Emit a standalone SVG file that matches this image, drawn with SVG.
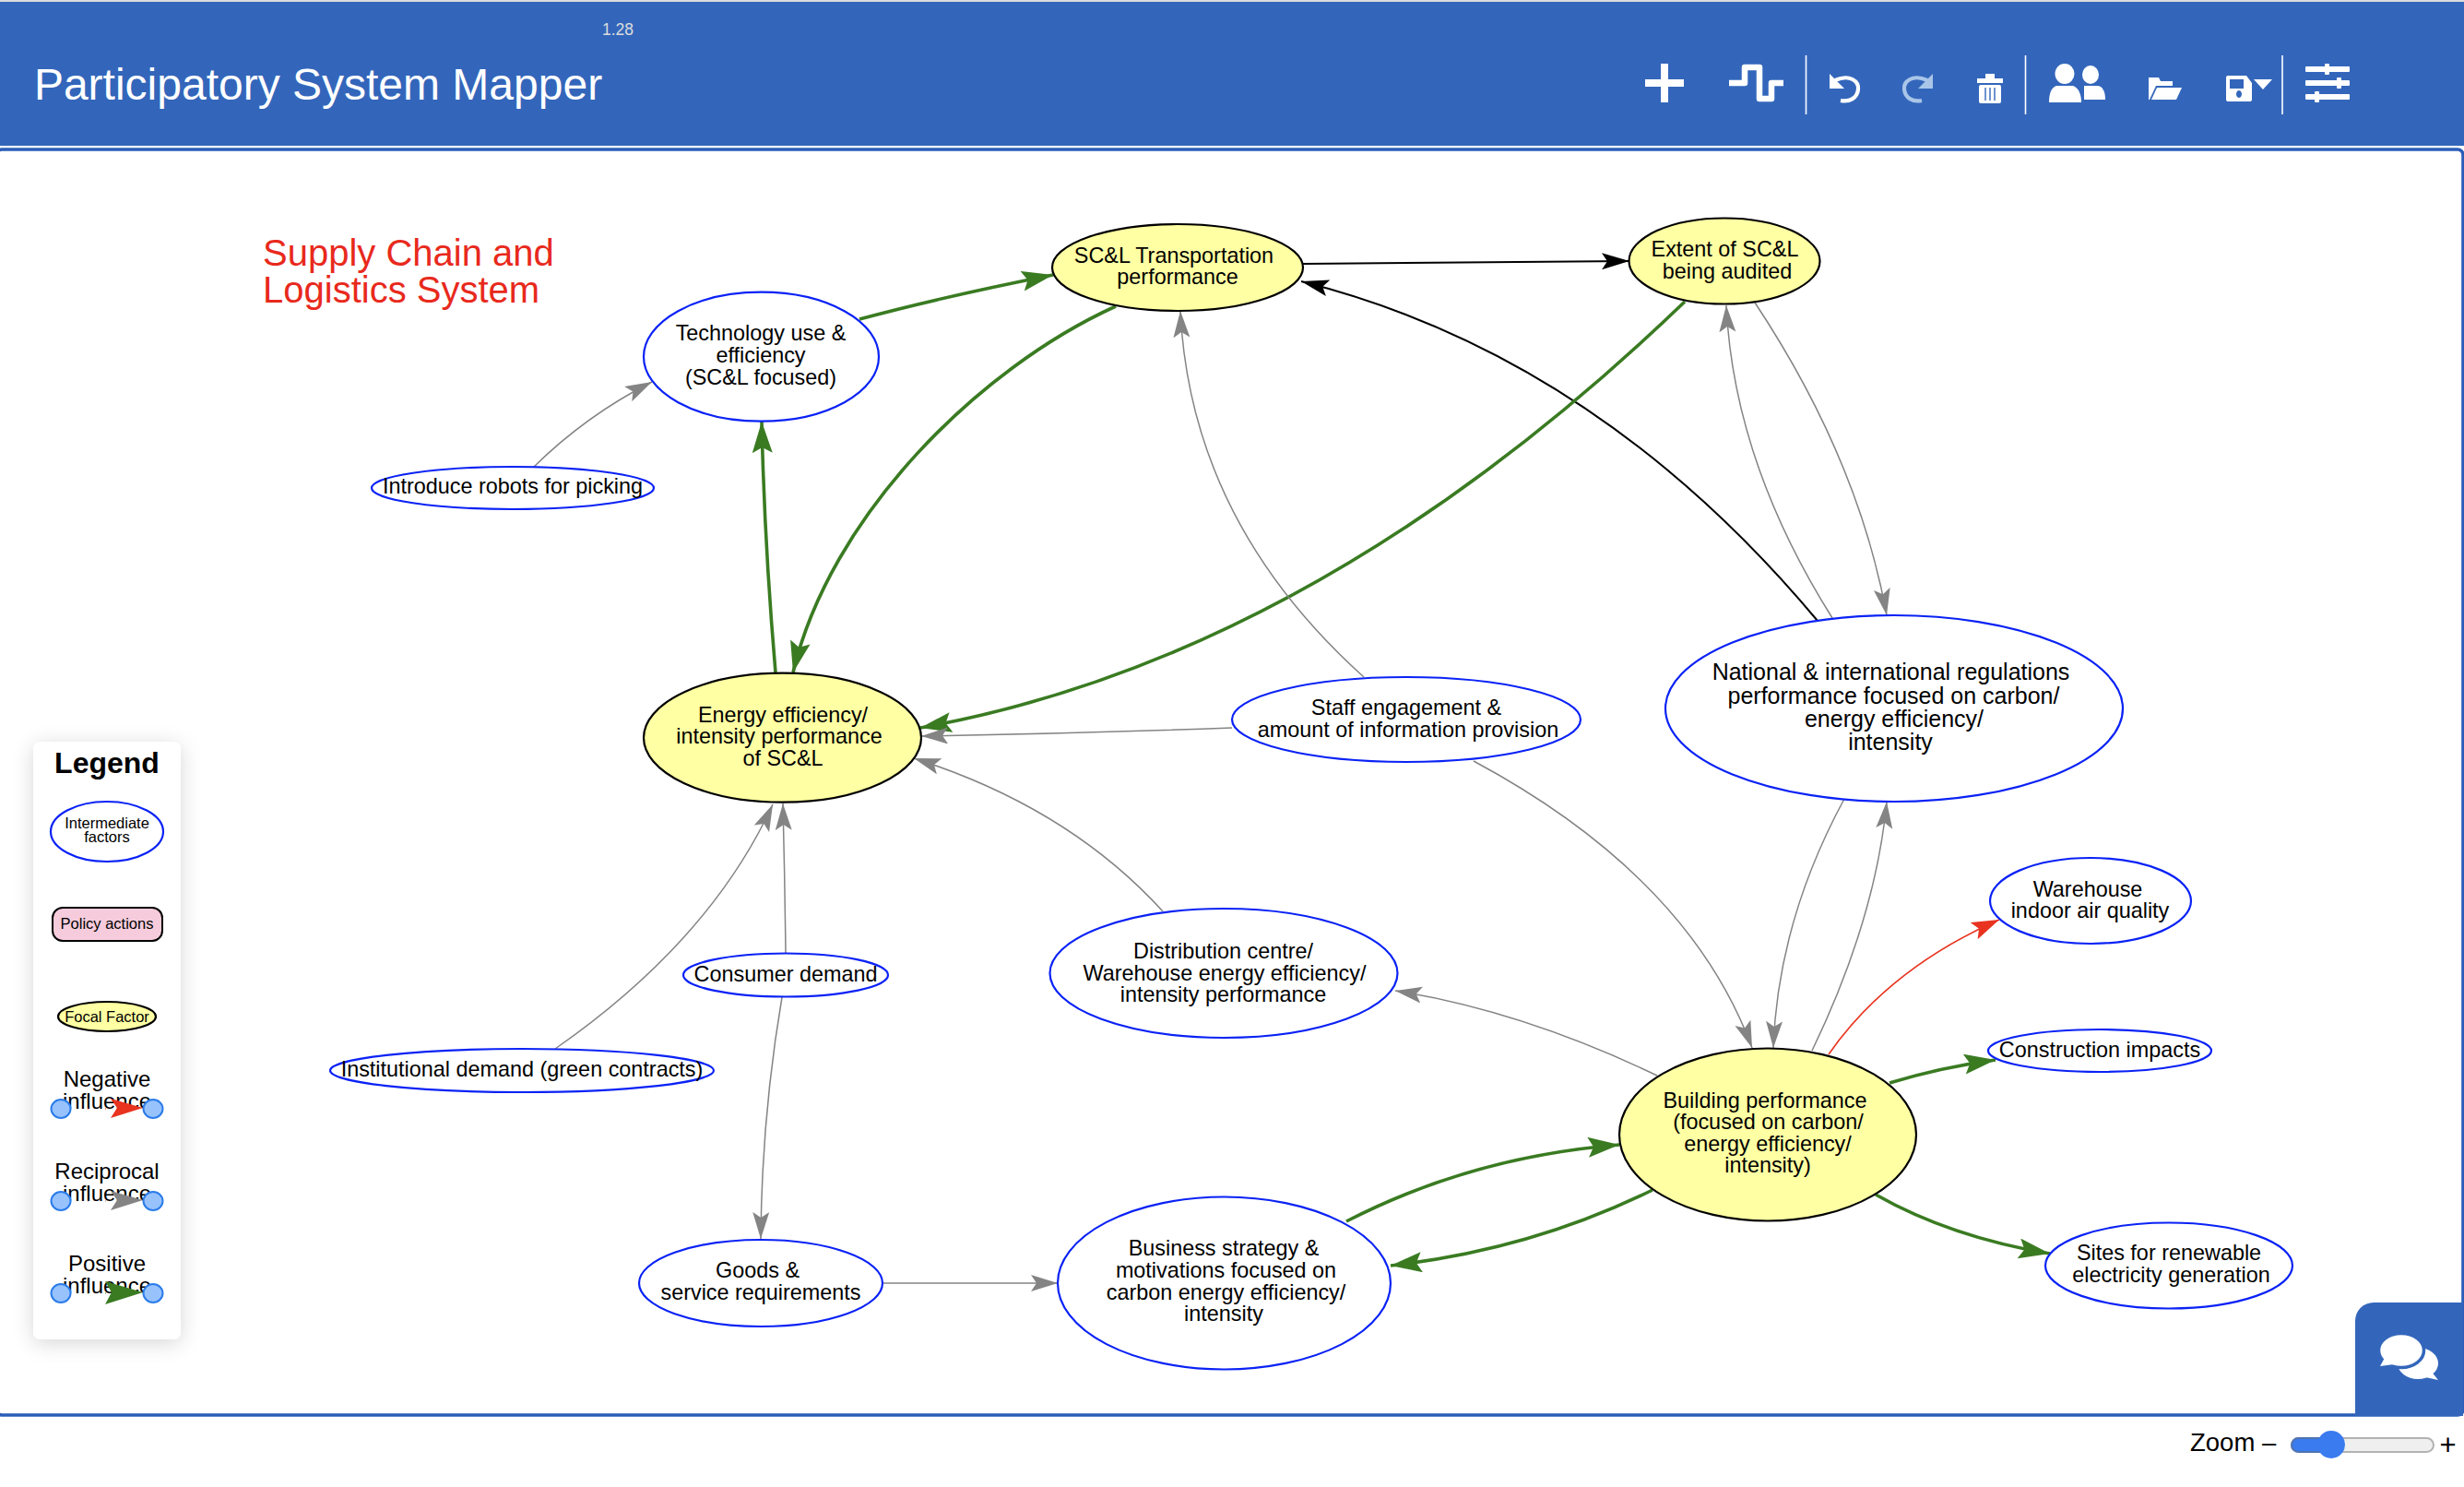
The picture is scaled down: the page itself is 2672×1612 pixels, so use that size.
<svg xmlns="http://www.w3.org/2000/svg" width="2672" height="1612" viewBox="0 0 2672 1612">
<style>
text{font-family:"Liberation Sans",Arial,Helvetica,sans-serif;fill:#000;text-anchor:middle}
.n{font-size:23.4px}
.lg{font-size:25px}
.leg{font-size:16.5px}
.int{fill:#fff;stroke:#0a22f5;stroke-width:2.2}
.foc{fill:#ffffa3;stroke:#000;stroke-width:2.2}
.e{fill:none}
.pos{stroke:#3a7b22;stroke-width:3.6;marker-end:url(#mG)}
.rec{stroke:#848484;stroke-width:1.5;marker-end:url(#mK)}
.blk{stroke:#000;stroke-width:2;marker-end:url(#mB)}
.neg{stroke:#e8331f;stroke-width:1.6;marker-end:url(#mR)}
.ic{fill:#fff}
.dot{fill:#97c2fc;stroke:#2b7ce9;stroke-width:2}
.bar{fill:#3366bb}
.sep{stroke:#fff;stroke-width:1.6}
</style>
<defs>
<marker id="mG" markerUnits="userSpaceOnUse" markerWidth="36" markerHeight="24" refX="34" refY="11" orient="auto"><path d="M0,0L34,11L0,22L6,11Z" fill="#3a7b22"/></marker>
<marker id="mK" markerUnits="userSpaceOnUse" markerWidth="32" markerHeight="20" refX="29" refY="9" orient="auto"><path d="M0,0L29,9L0,18L6,9Z" fill="#848484"/></marker>
<marker id="mB" markerUnits="userSpaceOnUse" markerWidth="32" markerHeight="20" refX="30" refY="9" orient="auto"><path d="M0,0L30,9L0,18L6,9Z" fill="#000"/></marker>
<marker id="mR" markerUnits="userSpaceOnUse" markerWidth="32" markerHeight="22" refX="30" refY="10" orient="auto"><path d="M0,0L30,10L0,20L6,10Z" fill="#e8331f"/></marker>
<filter id="sh" x="-40%" y="-10%" width="180%" height="120%"><feDropShadow dx="0" dy="4" stdDeviation="11" flood-color="#000" flood-opacity="0.16"/></filter>
</defs>
<rect width="2672" height="1612" fill="#fff"/>
<g id="header">
<rect width="2672" height="2" fill="#dcdcdc"/>
<rect y="2" width="2672" height="156" class="bar"/>
<text x="670" y="38" style="font-size:17.5px;fill:#dcdcdc">1.28</text>
<text x="345" y="108" style="font-size:48px;fill:#fff">Participatory System Mapper</text>
<path class="ic" d="M1801,69h8v17h17v8h-17v17h-8v-17h-17v-8h17z"/>
<path fill="none" stroke="#fff" stroke-width="6.5" stroke-linejoin="round" d="M1875,90H1892V73H1908V107H1921V90H1934"/>
<line class="sep" x1="1958.5" y1="60" x2="1958.5" y2="124"/>
<g id="undo"><path fill="none" stroke="#fff" stroke-width="4.2" d="M1990,87C2006,80 2016,88 2015,97C2014,106 2006,111 1996,109"/><path class="ic" d="M1984,80V96H2000Z"/></g>
<g id="redo" transform="matrix(-1 0 0 1 4080 0)"><path fill="none" stroke="#a9c5e8" stroke-width="4.2" d="M1990,87C2006,80 2016,88 2015,97C2014,106 2006,111 1996,109"/><path fill="#a9c5e8" d="M1984,80V96H2000Z"/></g>
<g id="trash"><rect class="ic" x="2144" y="85" width="28" height="5"/><rect class="ic" x="2153" y="80" width="10" height="5"/><rect class="ic" x="2146" y="92" width="24" height="20" rx="2"/><path stroke="#3366bb" stroke-width="1.4" d="M2153,95v14M2158,95v14M2163,95v14"/></g>
<line class="sep" x1="2196.5" y1="60" x2="2196.5" y2="124"/>
<g id="people"><ellipse class="ic" cx="2267" cy="81" rx="9" ry="10"/><path class="ic" d="M2260,93H2274C2280,93 2283,99 2283,108H2260Z"/><ellipse class="ic" cx="2239" cy="80" rx="10.5" ry="11"/><path class="ic" d="M2230,93H2248C2254,95 2257,102 2257,111H2222C2222,102 2224,95 2230,93Z"/></g>
<g id="folder"><path class="ic" d="M2330,84H2341L2343,88H2356V93H2338L2331,108H2330Z"/><path class="ic" d="M2339,95H2366L2360,108H2333Z"/></g>
<g id="save"><path class="ic" fill-rule="evenodd" d="M2414,84a2,2 0 0 1 2,-2H2436L2442,90V108a2,2 0 0 1 -2,2H2416a2,2 0 0 1 -2,-2ZM2418,86V96H2433V86ZM2428,98a3,4 0 1 0 .01,0Z"/><path class="ic" d="M2444,86H2464L2454,97Z"/></g>
<line class="sep" x1="2475" y1="60" x2="2475" y2="124"/>
<g id="sliders"><rect class="ic" x="2500" y="72" width="48" height="6" rx="1"/><rect class="ic" x="2500" y="87" width="48" height="6" rx="1"/><rect class="ic" x="2500" y="102" width="48" height="6" rx="1"/><rect class="ic" x="2521" y="69" width="5" height="12" rx="1"/><rect class="ic" x="2534" y="84" width="5" height="12" rx="1"/><rect class="ic" x="2510" y="99" width="5" height="12" rx="1"/></g>
</g>
<rect id="canvas" x="-4" y="162" width="2675" height="1372" rx="6" fill="#fff" stroke="#2a5db8" stroke-width="3.6"/>
<text x="285" y="288" style="font-size:40px;fill:#e8291c;text-anchor:start">Supply Chain and</text>
<text x="285" y="328" style="font-size:40px;fill:#e8291c;text-anchor:start">Logistics System</text>
<g id="connectors">
<path class="e rec" d="M579,506Q636,450 707,414"/>
<path class="e pos" d="M932,346Q1021,322 1142,298"/>
<path class="e pos" d="M841,729Q829,590 826,457"/>
<path class="e pos" d="M1210,332C1060,400 900,560 860,729"/>
<path class="e blk" d="M1413,286Q1590,284 1767,283"/>
<path class="e blk" d="M1971,673Q1730,385 1411,305"/>
<path class="e pos" d="M1827,327Q1427,712 998,789"/>
<path class="e rec" d="M1903,328Q2015,497 2046,667"/>
<path class="e rec" d="M1987,670Q1880,500 1872,331"/>
<path class="e rec" d="M1479,734Q1291,565 1280,337"/>
<path class="e rec" d="M1336,789Q1170,795 999,798"/>
<path class="e rec" d="M1261,988Q1158,875 991,822"/>
<path class="e rec" d="M602,1137Q770,1020 838,872"/>
<path class="e rec" d="M852,1033Q851,950 849,871"/>
<path class="e rec" d="M848,1081Q826,1210 825,1343"/>
<path class="e rec" d="M958,1391H1147"/>
<path class="e pos" d="M1460,1324Q1596,1254 1756,1241"/>
<path class="e pos" d="M1792,1290Q1660,1355 1508,1372"/>
<path class="e rec" d="M1598,825Q1831,950 1900,1136"/>
<path class="e rec" d="M2000,866Q1928,999 1923,1136"/>
<path class="e rec" d="M1965,1139Q2034,996 2046,869"/>
<path class="e rec" d="M1797,1166Q1651,1096 1513,1074"/>
<path class="e neg" d="M1983,1143Q2048,1050 2168,997"/>
<path class="e pos" d="M2049,1174Q2105,1157 2164,1149"/>
<path class="e pos" d="M2034,1295Q2115,1341 2223,1359"/>
</g>
<g id="node-tech"><ellipse class="int" cx="825.5" cy="386.7" rx="127.5" ry="70"/><text class="n" x="825" y="369">Technology use &amp;</text><text class="n" x="825" y="392.5">efficiency</text><text class="n" x="825" y="416.5">(SC&amp;L focused)</text></g>
<g id="node-transport"><ellipse class="foc" cx="1277" cy="290" rx="136" ry="47"/><text class="n" x="1273" y="285">SC&amp;L Transportation</text><text class="n" x="1277" y="308">performance</text></g>
<g id="node-audited"><ellipse class="foc" cx="1870" cy="283" rx="103.5" ry="46.5"/><text class="n" x="1870.5" y="278">Extent of SC&amp;L</text><text class="n" x="1873" y="301.5">being audited</text></g>
<g id="node-regulations"><ellipse class="int" cx="2054" cy="768" rx="248" ry="101"/><text class="lg" x="2050.5" y="737">National &amp; international regulations</text><text class="lg" x="2053.5" y="762.5">performance focused on carbon/</text><text class="lg" x="2054" y="788">energy efficiency/</text><text class="lg" x="2050" y="813">intensity</text></g>
<g id="node-energy"><ellipse class="foc" cx="848.5" cy="799.7" rx="150.5" ry="70"/><text class="n" x="849" y="782.5">Energy efficiency/</text><text class="n" x="845" y="806">intensity performance</text><text class="n" x="849" y="829.5">of SC&amp;L</text></g>
<g id="node-staff"><ellipse class="int" cx="1525" cy="780" rx="189" ry="46"/><text class="n" x="1525" y="775">Staff engagement &amp;</text><text class="n" x="1527" y="799">amount of information provision</text></g>
<g id="node-robots"><ellipse class="int" cx="556" cy="529" rx="153" ry="23"/><text class="n" x="556" y="535">Introduce robots for picking</text></g>
<g id="node-consumer"><ellipse class="int" cx="852" cy="1057" rx="111" ry="23.5"/><text class="n" x="852" y="1063.8">Consumer demand</text></g>
<g id="node-institutional"><ellipse class="int" cx="566" cy="1160.5" rx="208" ry="23.5"/><text class="n" x="566" y="1166.7">Institutional demand (green contracts)</text></g>
<g id="node-distribution"><ellipse class="int" cx="1327" cy="1055" rx="188.5" ry="70"/><text class="n" x="1326.5" y="1039">Distribution centre/</text><text class="n" x="1328" y="1062.5">Warehouse energy efficiency/</text><text class="n" x="1326.5" y="1085.5">intensity performance</text></g>
<g id="node-building"><ellipse class="foc" cx="1917" cy="1230" rx="161" ry="93.5"/><text class="n" x="1914" y="1200.7">Building performance</text><text class="n" x="1917.5" y="1223.5">(focused on carbon/</text><text class="n" x="1917" y="1247.5">energy efficiency/</text><text class="n" x="1917" y="1270.5">intensity)</text></g>
<g id="node-warehouse"><ellipse class="int" cx="2267" cy="976.5" rx="109" ry="46.5"/><text class="n" x="2264" y="971.5">Warehouse</text><text class="n" x="2266.5" y="995">indoor air quality</text></g>
<g id="node-construction"><ellipse class="int" cx="2277" cy="1139" rx="121" ry="23"/><text class="n" x="2277" y="1145.7">Construction impacts</text></g>
<g id="node-sites"><ellipse class="int" cx="2352" cy="1372" rx="134" ry="46.5"/><text class="n" x="2352" y="1366">Sites for renewable</text><text class="n" x="2354.5" y="1390">electricity generation</text></g>
<g id="node-goods"><ellipse class="int" cx="825" cy="1391" rx="132" ry="47"/><text class="n" x="821.5" y="1385">Goods &amp;</text><text class="n" x="825" y="1408.5">service requirements</text></g>
<g id="node-business"><ellipse class="int" cx="1327.5" cy="1391" rx="180.5" ry="93.5"/><text class="n" x="1327" y="1361">Business strategy &amp;</text><text class="n" x="1329.5" y="1385">motivations focused on</text><text class="n" x="1329.5" y="1408.5">carbon energy efficiency/</text><text class="n" x="1327" y="1432">intensity</text></g>
<g id="legend">
<rect x="36" y="804" width="160" height="648" rx="8" fill="#fff" filter="url(#sh)"/>
<text x="116" y="838" style="font-size:32px;font-weight:bold">Legend</text>
<ellipse class="int" cx="116" cy="901.5" rx="61" ry="32.5"/>
<text class="leg" x="116" y="898">Intermediate</text><text class="leg" x="116" y="913">factors</text>
<rect x="57" y="984" width="119" height="36" rx="11" fill="#f6ccdc" stroke="#000" stroke-width="2"/>
<text class="leg" x="116" y="1007">Policy actions</text>
<ellipse class="foc" cx="116" cy="1102" rx="53" ry="16"/>
<text class="leg" x="116" y="1107.5">Focal Factor</text>
<text x="116" y="1178" style="font-size:24px">Negative</text><text x="116" y="1202" style="font-size:24px">influence</text>
<line x1="76" y1="1202" x2="122" y2="1202" stroke="#e8331f" stroke-width="1" stroke-dasharray="1 18"/>
<path d="M120,1191L155,1201L120,1212L127,1201Z" fill="#e8331f"/>
<ellipse class="dot" cx="66" cy="1202" rx="10.5" ry="10"/><ellipse class="dot" cx="166" cy="1202" rx="10.5" ry="10"/>
<text x="116" y="1278" style="font-size:24px">Reciprocal</text><text x="116" y="1302" style="font-size:24px">influence</text>
<line x1="76" y1="1302" x2="122" y2="1302" stroke="#848484" stroke-width="1" stroke-dasharray="1 18"/>
<path d="M120,1291L155,1301L120,1312L127,1301Z" fill="#848484"/>
<ellipse class="dot" cx="66" cy="1302" rx="10.5" ry="10"/><ellipse class="dot" cx="166" cy="1302" rx="10.5" ry="10"/>
<text x="116" y="1378" style="font-size:24px">Positive</text><text x="116" y="1402" style="font-size:24px">influence</text>
<line x1="76" y1="1402" x2="116" y2="1402" stroke="#3a7b22" stroke-width="1" stroke-dasharray="1 18"/>
<path d="M114,1389L155,1401L114,1414L121,1401Z" fill="#3a7b22"/>
<ellipse class="dot" cx="66" cy="1402" rx="10.5" ry="10"/><ellipse class="dot" cx="166" cy="1402" rx="10.5" ry="10"/>
</g>
<g id="chat">
<path class="bar" d="M2554,1535V1432a20,20 0 0 1 20,-20H2671V1535Z"/>
<ellipse class="ic" cx="2622" cy="1478" rx="22" ry="17"/><path class="ic" d="M2636,1486L2644,1496L2630,1493Z"/>
<ellipse class="ic" cx="2604" cy="1464" rx="24.5" ry="18.5" stroke="#3366bb" stroke-width="3.5"/><path class="ic" d="M2586,1472L2581,1481L2596,1479Z"/>
</g>
<g id="zoom">
<text x="2375" y="1572.5" style="font-size:27.5px;text-anchor:start">Zoom –</text>
<rect x="2485" y="1559" width="154" height="15" rx="7.5" fill="#efefef" stroke="#b2b2b2" stroke-width="2"/>
<rect x="2485" y="1559" width="43" height="15" rx="7.5" fill="#3b7bf0" stroke="#4f74b0" stroke-width="2"/>
<circle cx="2528" cy="1566" r="15" fill="#3b7bf0"/>
<text x="2654.5" y="1577" style="font-size:31px">+</text>
</g>
</svg>
